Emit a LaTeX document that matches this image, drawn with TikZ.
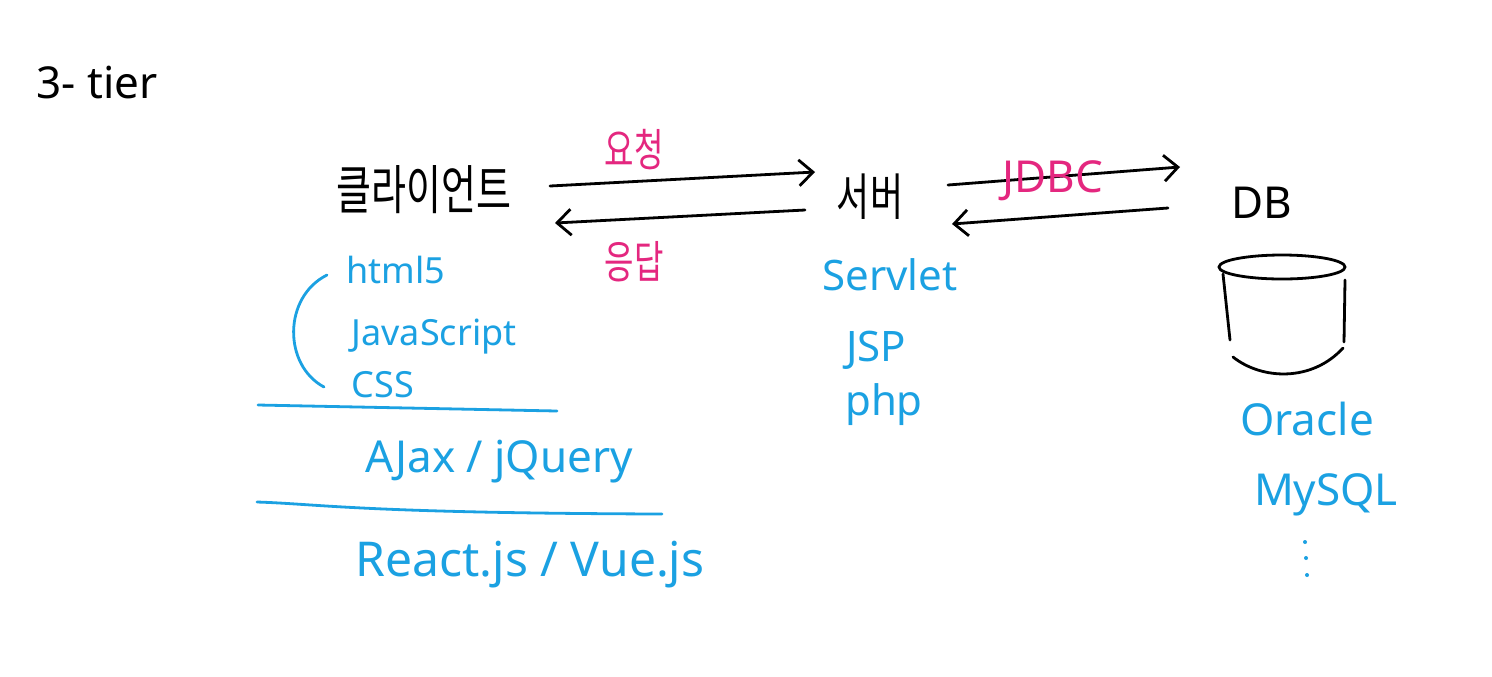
\documentclass[tikz,border=0pt]{standalone}
\usepackage{fontspec}
\usepackage{graphicx}
\setmainfont{Noto Sans}
\newfontfamily\kr{Noto Sans CJK KR}
\usetikzlibrary{arrows.meta}
\definecolor{hblue}{RGB}{27,161,226}
\definecolor{hpink}{RGB}{228,39,127}
\newcommand{\tallkr}[1]{\scalebox{1}[1.4]{#1}}
\begin{document}
\begin{tikzpicture}[x=0.5pt,y=-0.5pt,
  every node/.style={inner sep=0pt},
  blktxt/.style={text=black},
  bltxt/.style={text=hblue, anchor=base},
  pktxt/.style={text=hpink},
  arr/.style={line width=1.4pt, line cap=round, -{Straight Barb[length=7pt,width=13pt]}},
  blline/.style={draw=hblue, line width=1.4pt, line cap=round},
  cyl/.style={draw=black, line width=1.4pt, line cap=round}]
\useasboundingbox (0,0) rectangle (1492,676);
\fill[white] (0,0) rectangle (1492,676);

% title
\node[blktxt, anchor=base, font=\fontsize{22}{22}\selectfont] (title) at (97,98) {3- tier};

% tiers
\node[blktxt, font=\kr\fontsize{19}{19}\selectfont] (client) at (424,190) {\tallkr{클라이언트}};
\node[blktxt, font=\kr\fontsize{18}{18}\selectfont] (server) at (870,197) {\tallkr{서버}};
\node[blktxt, anchor=base, font=\fontsize{22}{22}\selectfont] (db) at (1262,218) {DB};

% arrows client <-> server
\coordinate (r1s) at (550,186);
\coordinate (r1e) at (815,172);
\coordinate (r2s) at (805,210);
\coordinate (r2e) at (555,223);
\draw[arr] (r1s) -- (r1e);
\draw[arr] (r2s) -- (r2e);
\node[pktxt, font=\kr\fontsize{16}{16}\selectfont] (req) at (634,150) {\tallkr{요청}};
\node[pktxt, font=\kr\fontsize{16}{16}\selectfont] (resp) at (634,262) {\tallkr{응답}};

% arrows server <-> db
\coordinate (j1s) at (948,185);
\coordinate (j1e) at (1180,167);
\coordinate (j2s) at (1168,208);
\coordinate (j2e) at (952,224);
\draw[arr] (j1s) -- (j1e);
\draw[arr] (j2s) -- (j2e);
\node[pktxt, anchor=base, font=\fontsize{22}{22}\selectfont] (jdbc) at (1053,192) {JDBC};

% client technologies
\node[bltxt, font=\fontsize{18}{18}\selectfont] (html) at (396,283) {html5};
\node[bltxt, font=\fontsize{18}{18}\selectfont] (js) at (434,345) {JavaScript};
\node[bltxt, font=\fontsize{18}{18}\selectfont] (css) at (383,397) {CSS};
\draw[blline] (327,275) .. controls (283,297) and (283,365) .. (324,387);
\draw[blline] (258,405) -- (557,411);
\node[bltxt, font=\fontsize{22}{22}\selectfont] (ajax) at (499,472) {AJax / jQuery};
\draw[blline] (257,502) .. controls (320,504) and (360,513) .. (662,514);
\node[bltxt, font=\fontsize{24}{24}\selectfont] (react) at (530,576) {React.js / Vue.js};

% server technologies
\node[bltxt, font=\fontsize{21}{21}\selectfont] (servlet) at (890,290) {Servlet};
\node[bltxt, font=\fontsize{21}{21}\selectfont] (jsp) at (876,361) {JSP};
\node[bltxt, font=\fontsize{21}{21}\selectfont] (php) at (884,415) {php};

% database cylinder
\draw[cyl] (1282,267) ellipse [x radius=63, y radius=12];
\draw[cyl] (1223,274) -- (1230,340);
\draw[cyl] (1345,280) -- (1344,342);
\draw[cyl] (1233,357) .. controls (1262,380) and (1312,382) .. (1343,348);

% db products
\node[bltxt, font=\fontsize{22}{22}\selectfont] (oracle) at (1307,435) {Oracle};
\node[bltxt, font=\fontsize{22}{22}\selectfont] (mysql) at (1326,505) {MySQL};
\fill[hblue] (1305,542) circle (1pt);
\fill[hblue] (1306,558) circle (1pt);
\fill[hblue] (1307,575) circle (1pt);
\end{tikzpicture}
\end{document}
